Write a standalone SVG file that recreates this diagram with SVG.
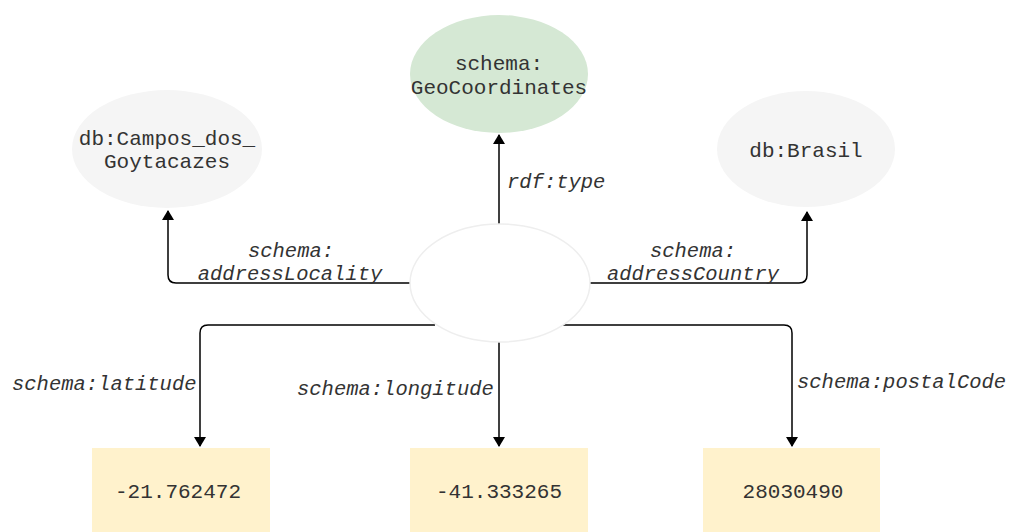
<svg xmlns="http://www.w3.org/2000/svg" width="1009" height="532" viewBox="0 0 1009 532">
<style>
.t{font-family:"Liberation Mono","Courier New",monospace;font-size:21px;fill:#333;text-anchor:middle}
.l{font-family:"Liberation Mono","Courier New",monospace;font-size:20.5px;font-style:italic;fill:#333}
.c{fill:none;stroke:#000;stroke-width:1.5;marker-end:url(#a)}
.gray{fill:#f5f5f5}
.lit{fill:#fff2cc}
</style>
<defs>
<marker id="a" viewBox="0 0 10 12" refX="9" refY="6" markerWidth="10" markerHeight="12" markerUnits="userSpaceOnUse" orient="auto">
<path d="M0,0 L10,6 L0,12 Z" fill="#000"/>
</marker>
</defs>
<rect width="1009" height="532" fill="#fff"/>
<g id="connectors">
<path class="c" d="M410,283 H176 Q168,283 168,275 V211"/>
<path class="c" d="M590,283 H799 Q807,283 807,275 V212"/>
<path class="c" d="M499,225 V135"/>
<path class="c" d="M435,325 H208 Q200,325 200,333 V446"/>
<path class="c" d="M563,325 H784 Q792,325 792,333 V446"/>
<path class="c" d="M499,342 V446"/>
<text class="l" x="507" y="188">rdf:type</text>
<text class="l" x="291" y="257" text-anchor="middle">schema:</text>
<text class="l" x="290" y="280" text-anchor="middle">addressLocality</text>
<text class="l" x="693" y="257" text-anchor="middle">schema:</text>
<text class="l" x="693" y="280" text-anchor="middle">addressCountry</text>
<text class="l" x="12" y="390">schema:latitude</text>
<text class="l" x="297" y="395">schema:longitude</text>
<text class="l" x="797" y="388">schema:postalCode</text>
</g>
<g id="geo">
<ellipse cx="499" cy="74" rx="89" ry="59" fill="#d5e8d4"/>
<text class="t" x="499" y="70">schema:</text>
<text class="t" x="499" y="94">GeoCoordinates</text>
</g>
<g id="campos">
<ellipse class="gray" cx="167" cy="149" rx="95" ry="59"/>
<text class="t" x="167" y="145">db:Campos_dos_</text>
<text class="t" x="167" y="168">Goytacazes</text>
</g>
<g id="brasil">
<ellipse class="gray" cx="806" cy="149" rx="89" ry="58"/>
<text class="t" x="806" y="157">db:Brasil</text>
</g>
<g id="center">
<ellipse cx="500" cy="283" rx="90" ry="59" fill="#fff" stroke="#eeeeee" stroke-width="1.5"/>
</g>
<g id="lat">
<rect class="lit" x="92" y="448" width="178" height="90"/>
<text class="t" x="178" y="498">-21.762472</text>
</g>
<g id="lon">
<rect class="lit" x="410" y="448" width="178" height="90"/>
<text class="t" x="499" y="498">-41.333265</text>
</g>
<g id="postal">
<rect class="lit" x="703" y="448" width="177" height="90"/>
<text class="t" x="793" y="498">28030490</text>
</g>
</svg>
